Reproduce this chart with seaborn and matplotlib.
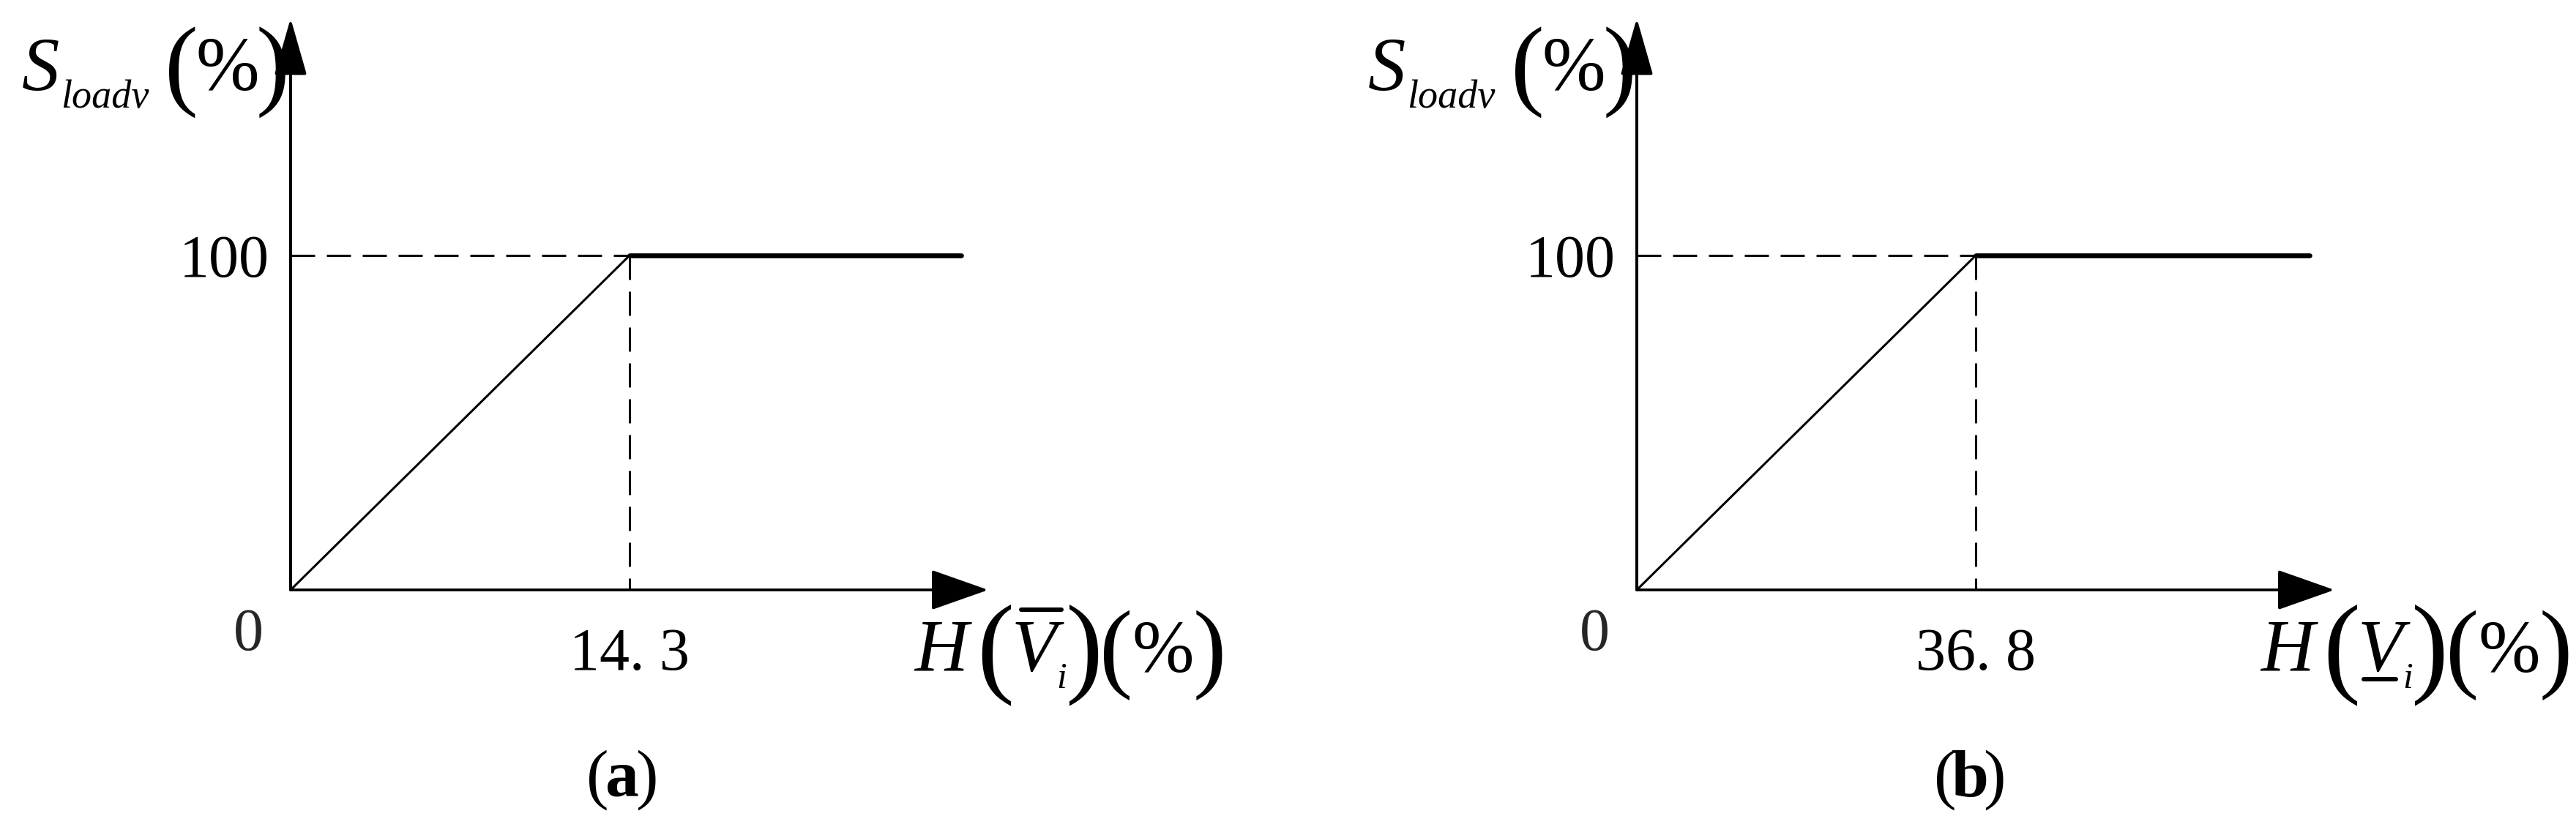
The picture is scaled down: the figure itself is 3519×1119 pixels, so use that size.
import matplotlib
matplotlib.use("Agg")
import matplotlib.pyplot as plt
from matplotlib.lines import Line2D
import numpy as np
import pandas as pd
import seaborn as sns

# ---------------- data ----------------
panel_letters = ["a", "b"]
knee_x = [14.3, 36.8]                 # break point of the curve
knee_labels = ["14. 3", "36. 8"]
sat_value = 100                        # saturation level (%)
line_end_x = [28.3, 73.0]              # end of the flat segment
axis_max_x = [29.43, 75.74]            # arrow tip of the x axis
axis_max_y = 170.9                     # arrow tip of the y axis
y_tick_label = "100"
origin_label = "0"

# ---------------- figure ----------------
sns.set_theme(style="white")
plt.rcParams["font.family"] = ["Liberation Serif", "DejaVu Serif"]
plt.rcParams["mathtext.fontset"] = "custom"
plt.rcParams["mathtext.rm"] = "Liberation Serif"
plt.rcParams["mathtext.it"] = "Liberation Serif:italic"
plt.rcParams["mathtext.bf"] = "Liberation Serif:bold"

W, H = 3519, 1119
DPI = 100
fig = plt.figure(figsize=(W / DPI, H / DPI), dpi=DPI, facecolor="white")

PX = 72.0 / DPI  # points per pixel


def fx(px):
    return px / W


def fy(py):
    return 1 - py / H


def put(s, cx, by, size, style="normal", weight="normal", ha="center"):
    fig.text(fx(cx), fy(by), s, ha=ha, va="baseline", fontsize=size,
             fontstyle=style, fontweight=weight, color="black",
             family=["Liberation Serif", "DejaVu Serif"])


def hline(x0, x1, y, lw):
    fig.add_artist(Line2D([fx(x0), fx(x1)], [fy(y), fy(y)], transform=fig.transFigure,
                          lw=lw, color="black", solid_capstyle="round"))


offsets = [0, 1839]
ORIGIN_X, ORIGIN_Y = 397, 806
AX_W, AX_H = 953, 781

for i in range(2):
    off = offsets[i]
    ax = fig.add_axes([fx(ORIGIN_X + off), (H - ORIGIN_Y) / H, AX_W / W, AX_H / H])
    ax.set_facecolor("none")
    k = knee_x[i]
    dash = (0, (11.3, 5.5))
    # dashed guides
    sns.lineplot(x=[0, k], y=[sat_value, sat_value], ax=ax, color="black", lw=2.1,
                 linestyle=dash, estimator=None, sort=False, clip_on=False)
    sns.lineplot(x=[k, k], y=[sat_value, 0], ax=ax, color="black", lw=2.1,
                 linestyle=dash, estimator=None, sort=False, clip_on=False)
    # rising segment
    sns.lineplot(x=[0, k], y=[0, sat_value], ax=ax, color="black", lw=2.2,
                 estimator=None, sort=False, clip_on=False)
    # saturated segment
    sns.lineplot(x=[k, line_end_x[i]], y=[sat_value, sat_value], ax=ax, color="black",
                 lw=4.8, estimator=None, sort=False, clip_on=False,
                 solid_capstyle="round")

    ax.set_xlim(0, axis_max_x[i])
    ax.set_ylim(0, axis_max_y)
    ax.set_frame_on(False)
    ax.set_xlabel("")
    ax.set_ylabel("")
    ax.set_xticks([k])
    ax.set_xticklabels([knee_labels[i]])
    ax.set_yticks([sat_value])
    ax.set_yticklabels([y_tick_label])
    ax.tick_params(axis="both", length=0, labelsize=59, colors="black")
    ax.tick_params(axis="x", pad=51 * PX)
    ax.tick_params(axis="y", pad=29 * PX)

    # axis arrows
    ax.annotate("", xy=(1, 0), xytext=(0, 0), xycoords="axes fraction",
                annotation_clip=False,
                arrowprops=dict(arrowstyle="-|>,head_length=50,head_width=17.6",
                                mutation_scale=1, shrinkA=0, shrinkB=0, lw=2.7,
                                color="black", clip_on=False))
    ax.annotate("", xy=(0, 1), xytext=(0, 0), xycoords="axes fraction",
                annotation_clip=False,
                arrowprops=dict(arrowstyle="-|>,head_length=49,head_width=14",
                                mutation_scale=1, shrinkA=0, shrinkB=0, lw=2.9,
                                color="black", clip_on=False))
    # origin label
    ax.annotate(origin_label, xy=(0, 0), xycoords="data",
                xytext=(-58 * PX, -82 * PX), textcoords="offset points",
                ha="center", va="baseline", fontsize=59, annotation_clip=False)

    # y label  S_loadv (%)
    put("S", 55 + off, 123, 74, style="italic")
    put("loadv", 143 + off, 147, 39, style="italic")
    put("(", 248 + off, 133, 99)
    put("%", 311 + off, 123, 75)
    put(")", 373 + off, 133, 99)

    # x label  H(V_i)(%)
    put("H", 1286 + off, 917, 73, style="italic")
    put("(", 1360 + off, 931, 110)
    put(r"$V_{{}_{i}}$", 1381 + off, 917, 73, ha="left")
    put(")", 1480 + off, 931, 110)
    put("(", 1525 + off, 928, 98)
    put("%", 1589 + off, 918, 73)
    put(")", 1652 + off, 928, 98)
    if i == 0:
        hline(1395, 1450, 833, 4.3)          # bar over V
    else:
        hline(1390 + off, 1434 + off, 928, 4.3)  # bar under V

    # caption
    cx = [850, 2691][i]
    put("(", cx - 34, 1088, 66)
    put(panel_letters[i], cx, 1088, 66, weight="bold")
    put(")", cx + 34, 1088, 66)

fig.savefig("out.png", dpi=DPI, facecolor="white")
